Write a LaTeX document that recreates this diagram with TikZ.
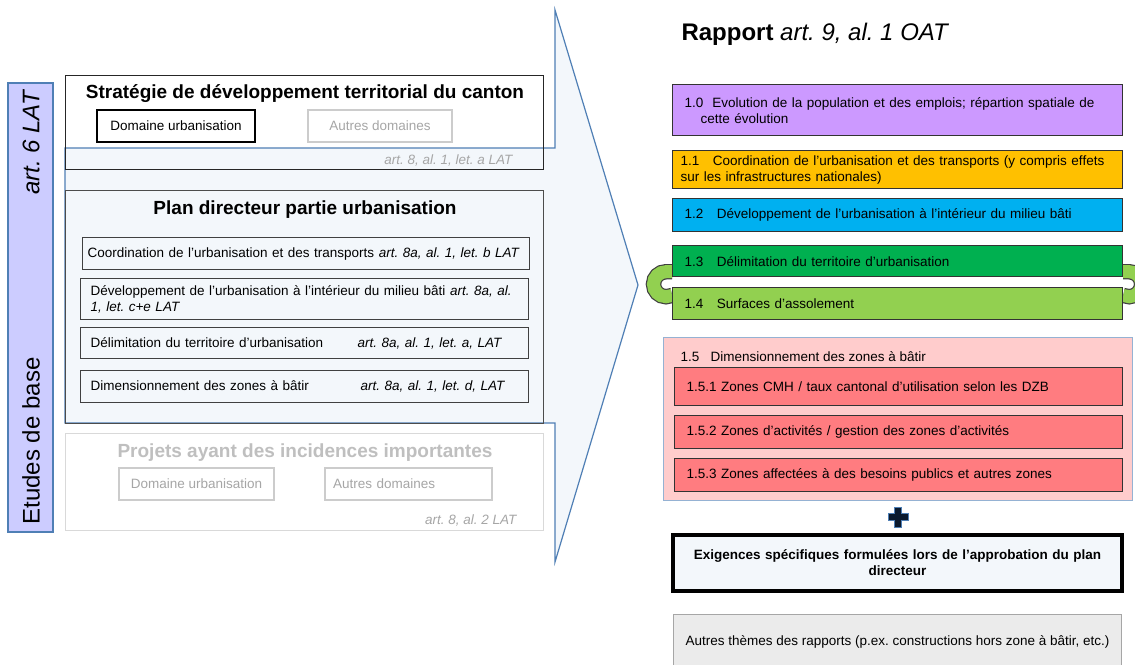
\documentclass[tikz,border=0pt]{standalone}
\usepackage{fontspec}
\setmainfont{Liberation Sans}
\usetikzlibrary{positioning, backgrounds}
\frenchspacing

\definecolor{barblue}{HTML}{CCCCFF}
\definecolor{edgeblue}{HTML}{4F7FB5}
\definecolor{calloutfill}{HTML}{F3F7FB}
\definecolor{popfill}{HTML}{CC99FF}
\definecolor{coordfill}{HTML}{FFC000}
\definecolor{devfill}{HTML}{00B0F0}
\definecolor{delimfill}{HTML}{00B050}
\definecolor{sdafill}{HTML}{92D050}
\definecolor{dimfill}{HTML}{FFCCCC}
\definecolor{zonefill}{HTML}{FF7C80}
\definecolor{plusnavy}{HTML}{0B1A2E}
\definecolor{otherfill}{HTML}{EBEBEB}

\newcommand{\boxfont}{\fontsize{13.5}{16}\selectfont}
\newcommand{\headfont}{\fontsize{19}{22}\selectfont\bfseries}
\newcommand{\bigfont}{\fontsize{24}{28}\selectfont}

\tikzstyle{basebar} = [rectangle, draw=edgeblue, fill=barblue, line width=1.2pt, minimum width=45pt, minimum height=449pt]
\tikzstyle{bartext} = [rotate=90, font=\bigfont]
\tikzstyle{framebox} = [rectangle, anchor=north west, minimum width=478pt, line width=1.2pt]
\tikzstyle{urbbox} = [rectangle, draw=black, line width=1.2pt, minimum height=32pt, font=\boxfont]
\tikzstyle{ghostbox} = [rectangle, draw=black!20, text=black!35, line width=1.2pt, minimum height=32pt, font=\boxfont]
\tikzstyle{lawref} = [anchor=east, text=black!35, font=\boxfont\itshape]
\tikzstyle{pditem} = [rectangle, draw=black!75, line width=1.2pt, anchor=north west, text width=428pt, inner xsep=10pt, align=left, font=\boxfont]
\tikzstyle{reportbox} = [rectangle, draw=black!80, line width=1.2pt, anchor=north west, text width=426pt, inner xsep=12pt, align=left, font=\boxfont]
\tikzstyle{zonebox} = [rectangle, draw=black!80, fill=zonefill, line width=1.2pt, anchor=north west, text width=424pt, inner xsep=12pt, align=left, font=\boxfont]
\tikzstyle{linkfill} = [line width=13pt, draw=sdafill]
\tikzstyle{linkedge} = [line width=15.4pt, draw=black!75]

\begin{document}
\begin{tikzpicture}[x=1pt, y=-1pt]

    \useasboundingbox (0,0) rectangle (1135,664);

    % left: base studies
    \node (bar) [basebar] at (30.5,307.5) {};
    \node (art6) [bartext] at (31,143) {\itshape art. 6 LAT};
    \node (etudes) [bartext] at (31,441) {Etudes de base};

    % callout from the plan towards the report
    \draw [edgeblue, fill=calloutfill, line width=1.2pt]
        (65,148) -- (555,148) -- (555,10) -- (638,285) -- (555,562)
        -- (555,423) -- (65,423) -- cycle;

    \node (strat) [framebox, draw=black!85, minimum height=94pt] at (65,75) {};
    \node (stratTitle) [font=\headfont] at (305,94) {Stratégie de développement territorial du canton};
    \node (stratUrb) [urbbox, minimum width=158pt] at (176,126) {Domaine urbanisation};
    \node (stratOther) [ghostbox, minimum width=144pt] at (380,126) {Autres domaines};
    \node (stratRef) [lawref] at (516,160) {art. 8, al. 1, let. a LAT};

    \node (pd) [framebox, draw=black!70, minimum height=233pt] at (65,190) {};
    \node (pdTitle) [font=\headfont] at (305,210) {Plan directeur partie urbanisation};
    \node (pdCoord) [pditem, minimum height=32pt, text width=437pt, inner xsep=5pt] at (82,237) {Coordination de l’urbanisation et des transports \textit{art. 8a, al. 1, let. b LAT}};
    \node (pdDev) [pditem, minimum height=41pt] at (80,278) {Développement de l’urbanisation à l’intérieur du milieu bâti \textit{art. 8a, al.}\\\textit{1, let. c+e LAT}};
    \node (pdDelim) [pditem, minimum height=31pt] at (80,327) {\makebox[267pt][l]{Délimitation du territoire d’urbanisation}\textit{art. 8a, al. 1, let. a, LAT}};
    \node (pdDim) [pditem, minimum height=32pt] at (80,370) {\makebox[270pt][l]{Dimensionnement des zones à bâtir}\textit{art. 8a, al. 1, let. d, LAT}};

    \node (proj) [framebox, draw=black!15, minimum height=97pt] at (65,433) {};
    \node (projTitle) [font=\headfont, text=black!25] at (305,453) {Projets ayant des incidences importantes};
    \node (projUrb) [ghostbox, minimum width=155pt] at (196.5,484) {Domaine urbanisation};
    \node (projOther) [ghostbox, text width=151pt, inner xsep=8pt, align=left] at (408.5,484) {Autres domaines};
    \node (projRef) [lawref] at (520,520) {art. 8, al. 2 LAT};

    % right: report
    \node (rapport) [anchor=west, font=\bigfont] at (678,34) {\textbf{Rapport} \textit{art. 9, al. 1 OAT}};

    \node (r10) [reportbox, fill=popfill, minimum height=51pt] at (672,84) {1.0~~Evolution de la population et des emplois; répartion spatiale de\\\hspace*{16pt}cette évolution};
    \node (r11) [reportbox, fill=coordfill, minimum height=38pt, inner xsep=8pt, text width=434pt] at (672,150) {1.1~~~Coordination de l’urbanisation et des transports (y compris effets\\sur les infrastructures nationales)};
    \node (r12) [reportbox, fill=devfill, minimum height=33pt] at (672,198) {1.2~~~Développement de l’urbanisation à l’intérieur du milieu bâti};
    \node (r13) [reportbox, fill=delimfill, minimum height=31pt] at (672,245) {1.3~~~Délimitation du territoire d’urbanisation};
    \node (r14) [reportbox, fill=sdafill, minimum height=32pt] at (672,287) {1.4~~~Surfaces d’assolement};

    \node (r15) [rectangle, draw=edgeblue!60, fill=dimfill, line width=1.2pt, anchor=north west, minimum width=469pt, minimum height=163pt] at (663,337) {};
    \node (r15Title) [anchor=west, font=\boxfont] at (677,357) {1.5~~~Dimensionnement des zones à bâtir};
    \node (r151) [zonebox, minimum height=38pt] at (674,367) {1.5.1 Zones CMH / taux cantonal d’utilisation selon les DZB};
    \node (r152) [zonebox, minimum height=33pt] at (674,415) {1.5.2 Zones d’activités / gestion des zones d’activités};
    \node (r153) [zonebox, minimum height=33pt] at (674,458) {1.5.3 Zones affectées à des besoins publics et autres zones};

    \draw [fill=plusnavy, draw=edgeblue, line width=0.8pt, shift={(898,517)}]
        (-3.5,-10) -- (3.5,-10) -- (3.5,-3.5) -- (10,-3.5) -- (10,3.5) -- (3.5,3.5)
        -- (3.5,10) -- (-3.5,10) -- (-3.5,3.5) -- (-10,3.5) -- (-10,-3.5) -- (-3.5,-3.5) -- cycle;

    \node (exig) [rectangle, draw=black, fill=calloutfill, line width=3.5pt, minimum width=449pt, minimum height=56pt, text width=440pt, align=center, font=\boxfont\bfseries] at (897.5,563) {Exigences spécifiques formulées lors de l’approbation du plan\\directeur};

    \node (autres) [rectangle, draw=black!35, fill=otherfill, line width=1pt, anchor=north west, minimum width=448pt, minimum height=54pt, font=\boxfont] at (673,614) {Autres thèmes des rapports (p.ex. constructions hors zone à bâtir, etc.)};

    \begin{scope}[on background layer]
        \fill [white] (0,0) rectangle (1135,664);
        \draw [linkedge] ([yshift=5.5pt]r13.south west) -- ++(-6,0) arc [start angle=270, end angle=90, radius=12.5] -- ([yshift=-8.5pt]r14.north west);
        \draw [linkfill] ([yshift=5.5pt]r13.south west) -- ++(-6,0) arc [start angle=270, end angle=90, radius=12.5] -- ([yshift=-8.5pt]r14.north west);
        \draw [linkedge] ([yshift=5.5pt]r13.south east) -- ++(6,0) arc [start angle=270, end angle=450, radius=12.5] -- ([yshift=-8.5pt]r14.north east);
        \draw [linkfill] ([yshift=5.5pt]r13.south east) -- ++(6,0) arc [start angle=270, end angle=450, radius=12.5] -- ([yshift=-8.5pt]r14.north east);
    \end{scope}

\end{tikzpicture}
\end{document}
